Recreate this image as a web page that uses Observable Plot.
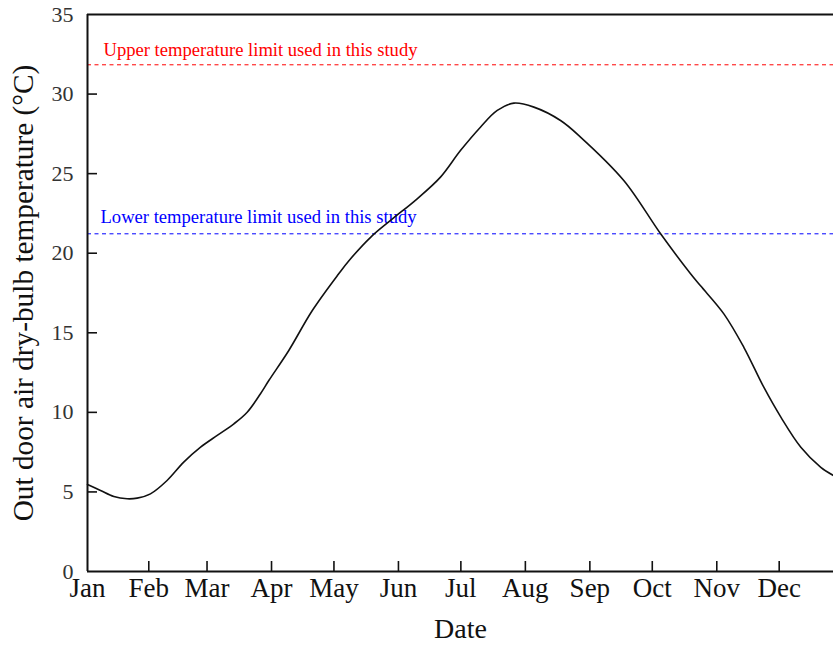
<!DOCTYPE html>
<html><head><meta charset="utf-8">
<script src="https://cdn.jsdelivr.net/npm/d3@7"></script>
<script src="https://cdn.jsdelivr.net/npm/@observablehq/plot@0.6"></script>
<style>body{margin:0;background:#fff} svg{display:block}</style>
</head><body><div id="chart"></div>
<script>
// day of year (0 = Jan 1) and outdoor dry-bulb temperature (°C)
const days  = [1.55, 7.8, 14.2, 20.6, 25.4, 31.8, 39.8, 47.8, 55.9, 63.9, 71.9, 78.3, 84.7, 88.7, 98.3, 109.6, 122.3, 127.0, 137.6, 147.2, 160.0, 171.2, 180.8, 190.4, 198.5, 206.5, 216.1, 228.9, 238.5, 259.3, 277.0, 291.4, 296.2, 307.4, 317.0, 326.6, 334.8, 344.4, 354.0, 360.1];
const temps = [5.47, 5.09, 4.71, 4.57, 4.61, 4.88, 5.72, 6.87, 7.81, 8.55, 9.28, 10.01, 11.17, 12.0, 13.89, 16.4, 18.71, 19.5, 21.0, 22.06, 23.42, 24.78, 26.45, 27.92, 28.97, 29.43, 29.18, 28.34, 27.3, 24.57, 21.22, 18.71, 17.95, 16.19, 14.09, 11.58, 9.70, 7.81, 6.55, 6.03];

const monthLabels = ["Jan","Feb","Mar","Apr","May","Jun","Jul","Aug","Sep","Oct","Nov","Dec"];
const monthDays   = [1.55, 31, 59, 90, 120, 151, 181, 212, 243, 273, 304, 334];
const yTicks = [0, 5, 10, 15, 20, 25, 30, 35];
const xDomain = [1.55, 360.1];
const yDomain = [0, 35];

const upperLimit = 31.84;
const lowerLimit = 21.22;
const upperLabel = "Upper temperature limit used in this study";
const lowerLabel = "Lower temperature limit used in this study";
const xLabel = "Date";
const yLabel = "Out door air dry-bulb temperature (°C)";

const data = days.map((d, i) => ({day: d, temp: temps[i]}));

const W = 833, H = 645, mL = 87, mR = 0, mT = 14, mB = 74;
const plotW = W - mL - mR, plotH = H - mT - mB;
const serif = "'Liberation Serif', 'Times New Roman', serif";

const chart = Plot.plot({
  width: W, height: H,
  marginLeft: mL, marginRight: mR, marginTop: mT, marginBottom: mB,
  style: {fontFamily: serif, background: "#fff", color: "#111"},
  x: {domain: xDomain, label: null},
  y: {domain: yDomain, label: null},
  marks: [
    Plot.ruleY([upperLimit], {stroke: "#ff0000", strokeWidth: 1, strokeDasharray: "4,3.5"}),
    Plot.ruleY([lowerLimit], {stroke: "#0000ff", strokeWidth: 1, strokeDasharray: "4,3.5"}),
    Plot.text([upperLabel], {x: xDomain[0], y: upperLimit, text: d => d, textAnchor: "start", dx: 16, dy: -15, fontSize: 18.6, fill: "#ff0000"}),
    Plot.text([lowerLabel], {x: xDomain[0], y: lowerLimit, text: d => d, textAnchor: "start", dx: 13, dy: -16.5, fontSize: 18.6, fill: "#0000ff"}),
    Plot.line(data, {x: "day", y: "temp", curve: "catmull-rom", stroke: "#111", strokeWidth: 1.6}),
    // inward tick marks
    Plot.tickY(yTicks.filter(v => v > yDomain[0] && v < yDomain[1]), {y: d => d, insetRight: plotW - 10, strokeWidth: 1.6, stroke: "#111"}),
    Plot.tickX(monthDays.slice(1), {x: d => d, insetTop: plotH - 10, strokeWidth: 1.6, stroke: "#111"}),
    // frame (left, bottom, top)
    Plot.ruleX([xDomain[0]], {strokeWidth: 2, stroke: "#111"}),
    Plot.ruleY([yDomain[0]], {strokeWidth: 2, stroke: "#111"}),
    Plot.ruleY([yDomain[1]], {strokeWidth: 2, stroke: "#111"}),
    // axes labels
    Plot.axisY(yTicks, {tickSize: 0, tickPadding: 14, fontSize: 22, fill: "#333", label: null}),
    Plot.axisX(monthDays, {tickSize: 0, tickPadding: 6, fontSize: 27, fill: "#111", label: null,
      tickFormat: d => monthLabels[monthDays.indexOf(d)]}),
    Plot.text([xLabel], {frameAnchor: "bottom", text: d => d, lineAnchor: "middle", dy: 58, fontSize: 28, fill: "#111"}),
    Plot.text([yLabel], {frameAnchor: "left", text: d => d, textAnchor: "middle", lineAnchor: "middle", rotate: -90, dx: -63.6, fontSize: 29.3, fill: "#111"})
  ]
});
document.getElementById("chart").appendChild(chart);
</script>
</body></html>
